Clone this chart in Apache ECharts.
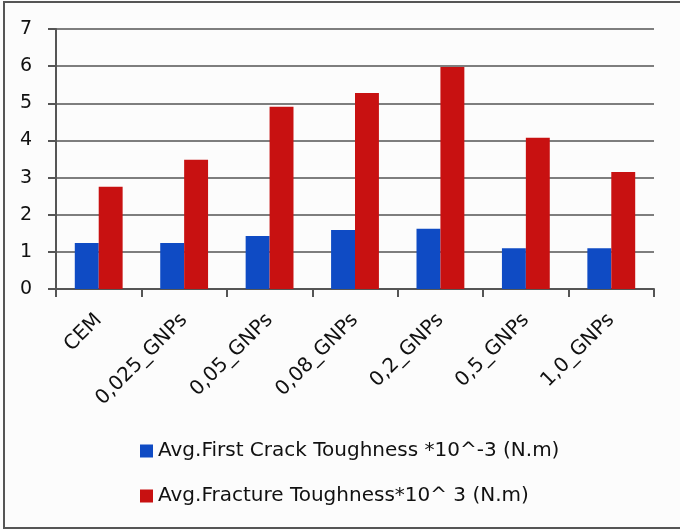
<!DOCTYPE html>
<html><head><meta charset="utf-8">
<script src="https://cdn.jsdelivr.net/npm/echarts@6/dist/echarts.min.js"></script>
<style>html,body{margin:0;padding:0;background:#fcfcfc;}#c{width:680px;height:530px;}</style>
</head><body><div id="c"></div>
<script>
const categories = ['CEM','0,025_GNPs','0,05_GNPs','0,08_GNPs','0,2_GNPs','0,5_GNPs','1,0_GNPs'];
const firstCrack = [1.24, 1.24, 1.43, 1.59, 1.62, 1.10, 1.10];
const fracture = [2.75, 3.48, 4.91, 5.28, 5.98, 4.07, 3.15];
const seriesNames = ['Avg.First Crack Toughness *10^-3 (N.m)', 'Avg.Fracture Toughness*10^ 3 (N.m)'];
const yTicks = [0,1,2,3,4,5,6,7];

const chart = echarts.init(document.getElementById('c'));
const font = 'DejaVu Sans';
chart.setOption({
  backgroundColor: '#fcfcfc',
  animation: false,
  textStyle: {fontFamily: font},
  grid: {left: 56, right: 26, top: 29, bottom: 241},
  legend: {
    orient: 'vertical', left: 135, top: 436, itemWidth: 13, itemHeight: 13, itemGap: 25,
    icon: 'rect',
    textStyle: {fontSize: 20, color: '#111', fontFamily: font},
    data: seriesNames
  },
  xAxis: {
    type: 'category', data: categories,
    axisLine: {lineStyle: {color: '#555', width: 2}},
    axisTick: {show: true, length: 8, lineStyle: {color: '#555', width: 2}},
    axisLabel: {rotate: 45, fontSize: 20, color: '#111', margin: 28, interval: 0}
  },
  yAxis: {
    type: 'value', min: 0, max: 7, interval: 1,
    axisLine: {show: true, lineStyle: {color: '#555', width: 2}},
    axisTick: {show: true, length: 8, lineStyle: {color: '#555', width: 2}},
    axisLabel: {fontSize: 19, color: '#111', margin: 24,
      formatter: v => yTicks.includes(v) ? String(v) : ''},
    splitLine: {lineStyle: {color: '#555', width: 1.5}}
  },
  series: [
    {name: seriesNames[0], type: 'bar', data: firstCrack, itemStyle: {color: '#0f4bc4'},
     barGap: '0%', barCategoryGap: '44%'},
    {name: seriesNames[1], type: 'bar', data: fracture, itemStyle: {color: '#c81111'}}
  ],
  graphic: [{
    type: 'polyline', silent: true,
    shape: {points: [[680, 2], [4, 2], [4, 528], [680, 528]]},
    style: {stroke: '#555', lineWidth: 2, fill: null}
  }]
});
</script></body></html>
